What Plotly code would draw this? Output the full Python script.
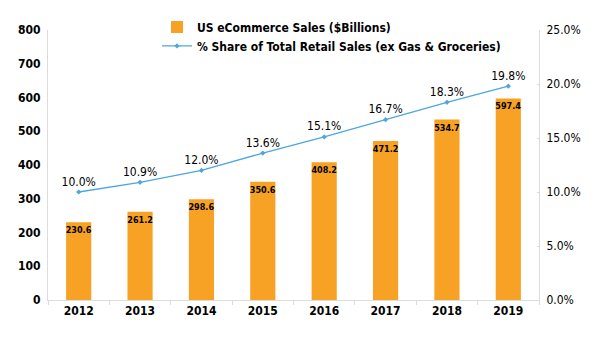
import plotly.graph_objects as go

years = ["2012", "2013", "2014", "2015", "2016", "2017", "2018", "2019"]
sales = [230.6, 261.2, 298.6, 350.6, 408.2, 471.2, 534.7, 597.4]
share = [10.0, 10.9, 12.0, 13.6, 15.1, 16.7, 18.3, 19.8]

FONT = "DejaVu Sans Condensed"
BAR_COLOR = "#F7A224"
LINE_COLOR = "#4DA6E0"
AXIS_COLOR = "#DCDCDC"

fig = go.Figure()

fig.add_trace(go.Bar(
    x=years,
    y=sales,
    name="US eCommerce Sales ($Billions)",
    marker=dict(color=BAR_COLOR, line=dict(width=0)),
    text=[f"{v:.1f}" for v in sales],
    textposition="inside",
    insidetextanchor="end",
    textangle=0,
    textfont=dict(family=FONT, size=9, color="black", weight="bold"),
    cliponaxis=False,
))

fig.add_trace(go.Scatter(
    x=years,
    y=[v / 100 for v in share],
    name="% Share of Total Retail Sales (ex Gas & Groceries)",
    yaxis="y2",
    mode="lines+markers+text",
    line=dict(color=LINE_COLOR, width=1.3),
    marker=dict(color=LINE_COLOR, size=4, symbol="diamond"),
    text=[f"{v:.1f}%" for v in share],
    textposition="top center",
    textfont=dict(family=FONT, size=12, color="black"),
    cliponaxis=False,
))

fig.update_layout(
    width=601,
    height=337,
    margin=dict(l=48, r=62, t=30, b=37),
    paper_bgcolor="white",
    plot_bgcolor="white",
    font=dict(family=FONT, size=12, color="black"),
    bargap=0.59,
    uniformtext=dict(minsize=9, mode="show"),
    showlegend=True,
    legend=dict(
        x=0.222, y=1.065, xanchor="left", yanchor="top",
        orientation="v",
        font=dict(family=FONT, size=12, color="black", weight="bold"),
        bgcolor="rgba(0,0,0,0)",
        tracegroupgap=4,
    ),
    xaxis=dict(
        type="category",
        showline=True, linecolor=AXIS_COLOR, linewidth=1,
        ticks="outside", ticklen=4, tickcolor=AXIS_COLOR,
        tickson="boundaries",
        showgrid=False,
        tickfont=dict(family=FONT, size=12, color="black", weight="bold"),
    ),
    yaxis=dict(
        range=[0, 800], dtick=100,
        showline=True, linecolor=AXIS_COLOR, linewidth=1,
        showgrid=False, zeroline=False,
        ticks="", ticklabelstandoff=4,
        tickfont=dict(family=FONT, size=12, color="black", weight="bold"),
    ),
    yaxis2=dict(
        range=[0, 0.25], dtick=0.05, tickformat=".1%",
        overlaying="y", side="right",
        showline=True, linecolor=AXIS_COLOR, linewidth=1,
        showgrid=False, zeroline=False,
        ticks="inside", ticklen=2, tickcolor=AXIS_COLOR,
        ticklabelstandoff=4,
        tickfont=dict(family=FONT, size=12, color="black"),
    ),
)

fig.write_html("out.html")
